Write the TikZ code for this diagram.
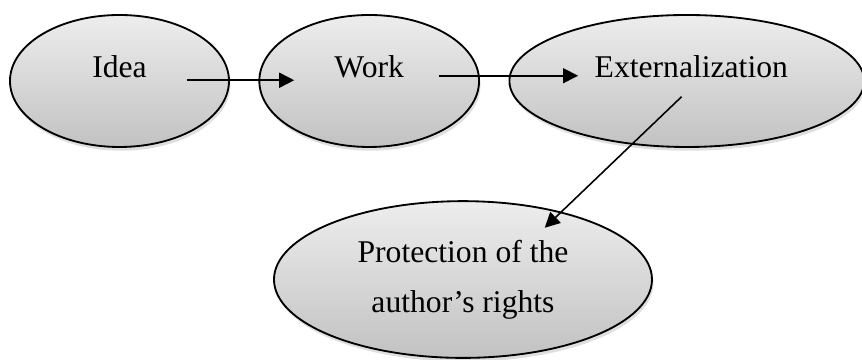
\documentclass[tikz,border=0pt]{standalone}
\usepackage{fontspec}
\setmainfont{Liberation Serif}
\usepackage{tikz}
\usetikzlibrary{shapes.geometric,arrows.meta,positioning,shadows}

\begin{document}
\begin{tikzpicture}[
  node distance=0.38cm,
  oval/.style={ellipse, draw, line width=0.7pt, inner sep=0pt,
               top color=black!7, bottom color=black!24,
               minimum height=1.76cm,
               drop shadow={shadow xshift=0.02cm, shadow yshift=-0.05cm,
                            opacity=0.25}},
  lbl/.style={font=\fontsize{12}{19}\selectfont, inner sep=0pt},
  arr/.style={draw, line width=0.6pt, -{Triangle[length=0.2cm, width=0.2cm]}}
]
\useasboundingbox (0,0) rectangle (11.4933,4.8);

\node[oval, minimum width=2.92cm] (idea) at (1.593,3.72) {};
\node[oval, minimum width=2.93cm, right=of idea] (work) {};
\node[oval, minimum width=4.73cm, right=of work] (ext) {};
\node[oval, minimum width=5.04cm, minimum height=2.09cm] (prot)
  at (6.173,1.073) {};

\node[lbl, anchor=base] (ideat) at ([yshift=0.05cm]idea.center) {Idea};
\node[lbl, anchor=base] (workt) at ([yshift=0.05cm]work.center) {Work};
\node[lbl, anchor=base] (extt) at ([xshift=0.06cm, yshift=0.05cm]ext.center)
  {Externalization};
\node[lbl, align=center] (prott) at (prot.center)
  {Protection of the\\author’s rights};

\draw[arr] ([xshift=0.9cm, yshift=0.01cm]idea.center)
  -- ([xshift=-1cm, yshift=0.01cm]work.center);
\draw[arr] ([xshift=0.93cm, yshift=0.07cm]work.center)
  -- ([xshift=-1.45cm, yshift=0.07cm]ext.center);
\draw[arr] ([xshift=-0.07cm, yshift=-0.21cm]ext.center)
  -- ([xshift=1.09cm, yshift=0.69cm]prot.center);
\end{tikzpicture}
\end{document}
